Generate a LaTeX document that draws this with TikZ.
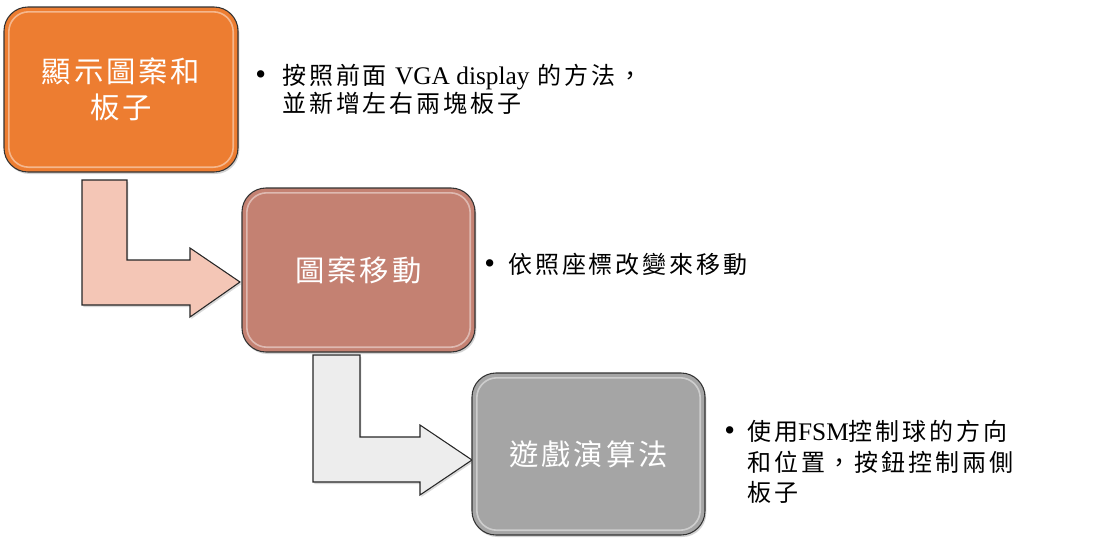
\documentclass[tikz,border=0pt]{standalone}
\usepackage{fontspec}
\setmainfont{Liberation Serif}
\newfontfamily\cjk[LetterSpace=12]{Noto Sans CJK TC}
\newfontfamily\cjkbox[LetterSpace=10]{Noto Sans CJK TC}
\usetikzlibrary{shadows}
\definecolor{boxA}{HTML}{ED7D31}
\definecolor{boxB}{HTML}{C48172}
\definecolor{boxC}{HTML}{A5A5A5}
\definecolor{arrA}{HTML}{F4C6B6}
\definecolor{arrB}{HTML}{EDEDED}
\tikzset{
  stepbox/.style={draw=black!80, line width=0.8pt, rounded corners=18pt,
    font=\cjkbox\fontsize{22}{27}\selectfont, text=white, align=center,
    drop shadow={shadow xshift=1pt, shadow yshift=-1.5pt, opacity=0.35}},
  bentarrow/.style={draw=black!85, line width=0.8pt, line join=miter,
    drop shadow={shadow xshift=1pt, shadow yshift=-1.5pt, opacity=0.3}},
  note/.style={anchor=base west, inner sep=0pt,
    font=\cjk\fontsize{18}{23}\selectfont, text=black},
  dot/.style={anchor=base west, inner sep=0pt, font=\fontsize{23}{23}\selectfont}
}
\begin{document}
\begin{tikzpicture}[x=0.75pt,y=-0.75pt]
\useasboundingbox (0,0) rectangle (1100,546);
% bent arrows
\draw[bentarrow, fill=arrA] (82,180) -- (127,180) -- (127,260) -- (190,260) -- (190,248)
  -- (240,282) -- (190,317) -- (190,305) -- (82,305) -- cycle;
\draw[bentarrow, fill=arrB] (313,355) -- (360,355) -- (360,437) -- (420,437) -- (420,425)
  -- (472,460) -- (420,495) -- (420,482) -- (313,482) -- cycle;
% boxes
\node[stepbox, fill=boxA, minimum width=175.5pt, minimum height=123.75pt] (b1) at (121,89.5) {顯示圖案和\\板子};
\node[stepbox, fill=boxB, minimum width=174.75pt, minimum height=123pt] (b2) at (358.5,270) {圖案移動};
\node[stepbox, fill=boxC, minimum width=174.75pt, minimum height=121.5pt] (b3) at (588.5,454) {遊戲演算法};
% inner highlights
\foreach \b in {b1,b2,b3}{
  \draw[white, opacity=0.45, line width=1.2pt, rounded corners=15pt]
    ([shift={(4pt,-4pt)}]\b.north west) rectangle ([shift={(-4pt,4pt)}]\b.south east);
}
% notes
\node[dot] (d1) at (255,84) {\textbullet};
\node[note] (t1a) at (282,84) {按照前面\ {\rmfamily\fontsize{19}{23}\selectfont VGA display}\ 的方法，};
\node[note] (t1b) at (282,112) {並新增左右兩塊板子};
\node[dot] (d2) at (484,273) {\textbullet};
\node[note] (t2) at (508,273) {依照座標改變來移動};
\node[dot] (d3) at (724,440) {\textbullet};
\node[note] (t3a) at (747,440) {使用{\rmfamily\fontsize{19}{23}\selectfont FSM}控制球的方向};
\node[note] (t3b) at (747,471) {和位置，按鈕控制兩側};
\node[note] (t3c) at (747,501) {板子};
\end{tikzpicture}
\end{document}
